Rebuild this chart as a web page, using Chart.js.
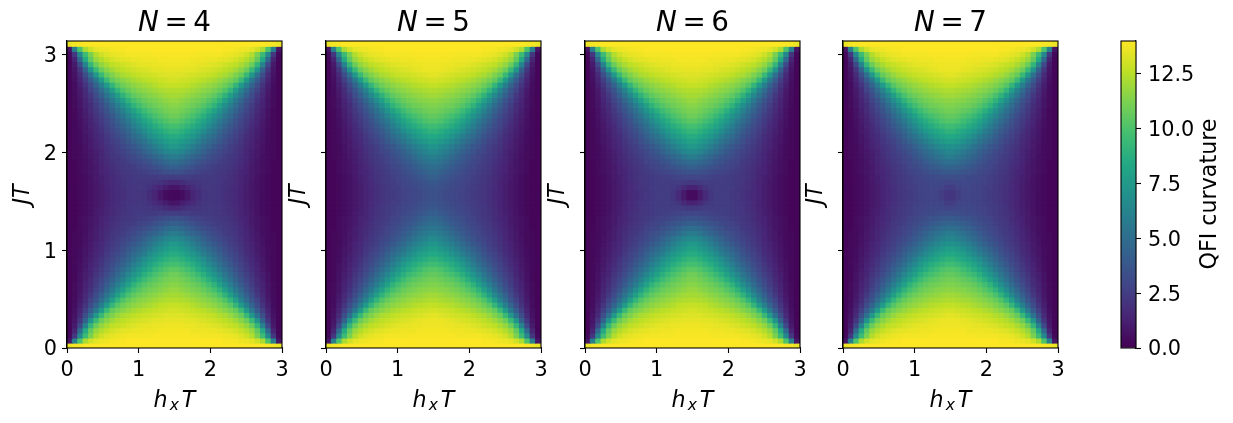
<!DOCTYPE html>
<html>
<head>
<meta charset="utf-8">
<title>QFI curvature</title>
<script src="https://cdn.jsdelivr.net/npm/chart.js@4"></script>
<style>
    body { margin: 0; background: #fff; }
    #page { position: relative; width: 1233px; height: 423px; overflow: hidden; }
    canvas { position: absolute; top: 0; }
</style>
</head>
<body>
<div id="page"></div>
<script>
// QFI curvature x10, lower-left quarter of each map (rows from JT=0 up, columns from hxT=0 right).
// The maps are mirror symmetric, so the other three quarters are flips of this one.
const qfiN4 = [
[136,138,139,140,140,140,140,140,140,140,140,140,140,140,140,140,140,140,140,140],
[8,60,100,122,130,134,136,137,138,139,139,140,140,140,140,140,140,140,140,140],
[3,22,65,95,112,124,130,133,135,136,137,138,138,138,138,138,139,139,139,139],
[2,14,47,85,106,118,124,128,131,133,134,135,136,136,137,137,137,138,138,138],
[2,10,30,62,92,108,117,122,126,128,130,132,133,134,135,135,136,136,137,137],
[2,8,22,44,72,94,108,115,120,124,126,128,130,131,132,133,134,134,135,135],
[2,7,17,33,52,74,94,107,113,118,122,124,126,128,129,130,131,132,133,133],
[2,6,14,26,40,56,76,94,106,111,115,118,121,123,125,126,128,129,130,131],
[2,5,12,21,32,45,60,76,92,103,109,113,116,118,120,122,124,126,127,128],
[2,5,10,18,27,37,49,62,77,91,101,107,111,114,116,118,120,122,123,124],
[2,4,9,16,23,32,42,53,65,78,90,99,105,109,112,114,116,118,120,121],
[2,4,8,14,20,28,36,46,56,67,79,90,98,103,107,110,112,114,116,118],
[2,4,8,13,18,25,32,40,49,59,69,80,90,97,102,106,109,111,113,115],
[2,3,7,12,17,23,29,36,44,52,61,71,80,88,95,100,104,107,110,112],
[2,3,7,11,15,21,26,32,39,47,55,63,72,80,88,94,99,103,106,109],
[2,3,6,10,14,19,24,29,35,42,49,57,65,73,81,87,93,97,101,104],
[2,3,6,9,13,17,22,27,32,38,44,51,59,66,74,81,87,91,95,98],
[2,3,5,9,12,16,20,25,29,34,40,46,53,60,67,74,80,85,89,92],
[2,3,5,8,11,15,18,23,27,31,36,42,48,54,60,67,73,78,83,86],
[2,3,5,8,10,14,17,21,25,28,33,38,43,48,54,60,66,71,76,80],
[2,3,4,7,10,13,16,20,23,26,30,34,38,43,48,54,60,65,70,74],
[2,3,4,7,9,12,15,19,22,25,27,31,34,38,43,48,53,58,63,66],
[2,3,4,6,9,11,15,18,21,23,25,28,31,34,38,42,46,50,55,58],
[2,2,4,6,8,11,14,17,20,22,24,26,28,30,33,36,40,43,47,50],
[2,2,4,6,8,10,13,16,19,21,23,24,25,27,29,31,34,37,40,42],
[2,2,4,6,8,10,13,15,18,20,22,23,24,25,26,27,29,31,33,34],
[2,2,3,5,7,10,12,15,17,19,21,22,23,24,24,24,24,25,25,25],
[2,2,3,5,7,9,12,14,17,19,20,22,23,23,23,22,21,20,18,16],
[2,2,3,5,7,9,11,14,16,18,20,21,22,23,22,20,17,14,11,8],
[2,2,3,5,7,9,11,13,16,18,19,21,22,22,21,18,14,9,5,3]
];
const qfiN5 = [
[136,138,139,140,140,140,140,140,140,140,140,140,140,140,140,140,140,140,140,140],
[8,60,100,122,130,134,136,137,138,139,139,140,140,140,140,140,140,140,140,140],
[3,22,65,95,112,124,130,133,135,136,137,138,138,138,138,138,139,139,139,139],
[2,14,47,85,106,118,124,128,131,133,134,135,136,136,137,137,137,138,138,138],
[2,10,30,62,92,108,117,122,126,128,130,132,133,134,135,135,136,136,137,137],
[2,8,22,44,72,94,108,115,120,124,126,128,130,131,132,133,134,135,136,136],
[2,7,17,33,52,74,94,107,113,118,122,124,126,128,129,130,131,132,133,134],
[2,6,14,26,40,56,76,94,106,111,115,118,121,123,125,126,128,129,130,131],
[2,5,12,21,32,45,60,76,92,103,109,113,116,118,120,122,124,125,126,127],
[2,5,10,18,27,37,49,62,77,91,101,107,111,114,116,118,120,121,122,123],
[2,4,9,16,23,32,42,53,65,78,90,99,105,109,112,114,116,117,119,120],
[2,4,8,14,20,28,36,46,56,67,79,90,98,103,107,110,112,114,115,116],
[2,4,8,13,18,25,32,40,49,59,69,80,90,97,102,106,109,110,112,113],
[2,3,7,12,17,23,29,36,44,52,61,71,80,88,95,100,104,106,108,110],
[2,3,7,11,15,21,26,32,39,47,55,63,72,80,88,94,98,101,104,106],
[2,3,6,10,14,19,24,29,35,42,49,57,65,73,81,87,92,96,100,102],
[2,3,6,9,13,17,22,27,32,38,44,51,59,66,74,81,86,90,93,96],
[2,3,5,9,12,16,20,25,29,34,40,46,53,60,67,73,79,83,87,90],
[2,3,5,8,11,15,18,23,27,31,36,42,48,54,60,66,72,77,81,84],
[2,3,5,8,10,14,17,21,25,28,33,38,43,48,54,60,65,70,74,78],
[2,3,4,7,10,13,16,20,23,26,30,34,38,43,48,54,59,64,68,72],
[2,3,4,7,9,12,15,19,22,25,28,31,35,39,43,48,53,58,62,66],
[2,3,4,6,9,11,15,18,21,24,26,29,32,36,40,44,48,53,57,60],
[2,2,4,6,8,11,14,17,20,23,25,28,30,33,37,40,44,48,52,55],
[2,2,4,6,8,10,13,16,19,22,24,26,29,31,34,37,40,44,47,50],
[2,2,4,6,8,10,13,15,18,21,23,25,27,29,32,34,37,40,43,46],
[2,2,3,5,7,10,12,15,18,20,22,24,26,28,30,32,34,37,39,42],
[2,2,3,5,7,9,12,14,17,20,22,24,25,27,29,30,32,34,36,38],
[2,2,3,5,7,9,11,14,17,19,21,23,25,26,28,29,31,32,34,36],
[2,2,3,5,7,9,11,14,16,19,21,23,24,26,27,29,30,31,33,34]
];
const qfiN6 = [
[136,138,139,140,140,140,140,140,140,140,140,140,140,140,140,140,140,140,140,140],
[8,60,100,122,130,134,136,137,138,139,139,140,140,140,140,140,140,140,140,140],
[3,22,65,95,112,124,130,133,135,136,137,138,138,138,138,138,139,139,139,139],
[2,14,47,85,106,118,124,128,131,133,134,135,136,136,137,137,137,138,138,138],
[2,10,30,62,92,108,117,122,126,128,130,132,133,134,135,135,136,136,137,137],
[2,8,22,44,72,94,108,115,120,124,126,128,130,131,132,133,134,134,135,135],
[2,7,17,33,52,74,94,107,113,118,122,124,126,128,129,130,131,132,133,133],
[2,6,14,26,40,56,76,94,106,111,115,118,121,123,125,126,128,129,130,131],
[2,5,12,21,32,45,60,76,92,103,109,113,116,118,120,122,124,126,127,128],
[2,5,10,18,27,37,49,62,77,91,101,107,111,114,116,118,120,122,123,124],
[2,4,9,16,23,32,42,53,65,78,90,99,105,109,112,114,116,118,120,121],
[2,4,8,14,20,28,36,46,56,67,79,90,98,103,107,110,112,114,116,118],
[2,4,8,13,18,25,32,40,49,59,69,80,90,97,102,106,109,111,113,115],
[2,3,7,12,17,23,29,36,44,52,61,71,80,88,95,100,104,107,110,112],
[2,3,7,11,15,21,26,32,39,47,55,63,72,80,88,94,99,103,106,109],
[2,3,6,10,14,19,24,29,35,42,49,57,65,73,81,87,93,97,101,104],
[2,3,6,9,13,17,22,27,32,38,44,51,59,66,74,81,87,91,95,98],
[2,3,5,9,12,16,20,25,29,34,40,46,53,60,67,74,80,85,89,92],
[2,3,5,8,11,15,18,23,27,31,36,42,48,54,60,67,73,78,83,86],
[2,3,5,8,10,14,17,21,25,28,33,38,43,48,54,60,66,71,76,80],
[2,3,4,7,10,13,16,20,23,26,30,34,38,43,48,54,60,65,70,74],
[2,3,4,7,9,12,15,19,22,25,27,31,34,38,43,48,53,58,63,66],
[2,3,4,6,9,11,15,18,21,23,26,29,32,35,38,42,46,50,55,58],
[2,2,4,6,8,11,14,17,20,22,24,27,29,31,34,37,41,44,47,50],
[2,2,4,6,8,10,13,16,19,21,23,25,27,29,31,33,36,38,40,42],
[2,2,4,6,8,10,13,15,18,20,22,24,25,27,28,29,31,32,34,35],
[2,2,3,5,7,10,12,15,18,20,22,23,24,25,26,26,27,28,29,29],
[2,2,3,5,7,9,12,14,17,19,21,23,24,25,25,25,25,25,24,23],
[2,2,3,5,7,9,11,14,17,19,21,22,24,25,25,25,24,21,17,13],
[2,2,3,5,7,9,11,14,16,18,20,22,23,25,25,25,22,17,10,4]
];
const qfiN7 = [
[136,138,139,140,140,140,140,140,140,140,140,140,140,140,140,140,140,140,140,140],
[8,60,100,122,130,134,136,137,138,139,139,140,140,140,140,140,140,140,140,140],
[3,22,65,95,112,124,130,133,135,136,137,138,138,138,138,138,139,139,139,139],
[2,14,47,85,106,118,124,128,131,133,134,135,136,136,137,137,137,138,138,138],
[2,10,30,62,92,108,117,122,126,128,130,132,133,134,135,135,136,136,137,137],
[2,8,22,44,72,94,108,115,120,124,126,128,130,131,132,133,134,135,136,136],
[2,7,17,33,52,74,94,107,113,118,122,124,126,128,129,130,131,132,133,134],
[2,6,14,26,40,56,76,94,106,111,115,118,121,123,125,126,128,129,130,131],
[2,5,12,21,32,45,60,76,92,103,109,113,116,118,120,122,124,125,126,127],
[2,5,10,18,27,37,49,62,77,91,101,107,111,114,116,118,120,121,122,123],
[2,4,9,16,23,32,42,53,65,78,90,99,105,109,112,114,116,117,119,120],
[2,4,8,14,20,28,36,46,56,67,79,90,98,103,107,110,112,114,115,116],
[2,4,8,13,18,25,32,40,49,59,69,80,90,97,102,106,109,110,112,113],
[2,3,7,12,17,23,29,36,44,52,61,71,80,88,95,100,104,106,108,110],
[2,3,7,11,15,21,26,32,39,47,55,63,72,80,88,94,98,101,104,106],
[2,3,6,10,14,19,24,29,35,42,49,57,65,73,81,87,92,96,100,102],
[2,3,6,9,13,17,22,27,32,38,44,51,59,66,74,81,86,90,93,96],
[2,3,5,9,12,16,20,25,29,34,40,46,53,60,67,73,79,83,87,90],
[2,3,5,8,11,15,18,23,27,31,36,42,48,54,60,66,72,77,81,84],
[2,3,5,8,10,14,17,21,25,28,33,38,43,48,54,60,65,70,74,77],
[2,3,4,7,10,13,16,20,23,26,30,34,38,43,48,54,59,63,67,70],
[2,3,4,7,9,12,15,19,22,25,28,31,35,39,43,48,52,57,61,64],
[2,3,4,6,9,11,15,18,21,24,26,29,32,36,40,44,48,52,55,58],
[2,2,4,6,8,11,14,17,20,23,25,28,30,33,36,40,43,46,49,51],
[2,2,4,6,8,10,13,16,19,22,24,26,29,31,33,36,39,41,43,45],
[2,2,4,6,8,10,13,15,18,21,23,25,27,29,31,33,35,36,38,39],
[2,2,3,5,7,10,12,15,18,20,22,24,26,27,29,30,31,32,33,33],
[2,2,3,5,7,9,12,14,17,20,22,24,25,27,28,29,30,30,30,29],
[2,2,3,5,7,9,11,14,17,19,21,23,25,26,27,28,29,29,28,25],
[2,2,3,5,7,9,11,14,16,19,21,23,24,26,27,28,29,28,25,22]
];

const panelSizes = [4, 5, 6, 7];
const panelMaps = [qfiN4, qfiN5, qfiN6, qfiN7];
const panelLefts = [67, 326, 585, 843];
const xTickMax = 3;
const yMax = Math.PI;
const colorbarRange = [0, 14];
const colorbarLabel = 'QFI curvature';

const viridis = ['#440154', '#482475', '#414487', '#355f8d', '#2a788e', '#21918c', '#22a884', '#44bf70', '#7ad151', '#bddf26', '#fde725'];
const tickFont = { family: 'DejaVu Sans', size: 20.8 };
const labelFont = { family: 'DejaVu Sans', size: 22.2, style: 'italic' };

function hexToRgb(hex) {
    return [1, 3, 5].map(i => parseInt(hex.slice(i, i + 2), 16));
}

function viridisColor(value) {
    const t = Math.min(Math.max(value / colorbarRange[1], 0), 1) * (viridis.length - 1);
    const i = Math.min(Math.floor(t), viridis.length - 2);
    const a = hexToRgb(viridis[i]);
    const b = hexToRgb(viridis[i + 1]);
    const c = a.map((v, k) => Math.round(v + (b[k] - v) * (t - i)));
    return `rgb(${c[0]},${c[1]},${c[2]})`;
}

// unfold the quarter into the whole 60 x 40 grid of cells
function buildCells(quarter) {
    const rows = quarter.length * 2;
    const cols = quarter[0].length * 2;
    const points = [];
    const colors = [];
    for (let r = 0; r < rows; r++) {
        for (let c = 0; c < cols; c++) {
            const value = quarter[Math.min(r, rows - 1 - r)][Math.min(c, cols - 1 - c)] / 10;
            points.push({ x: (c + 0.5) * xTickMax / cols, y: (r + 0.5) * yMax / rows });
            colors.push(viridisColor(value));
        }
    }
    return { points, colors };
}

const framePlugin = {
    id: 'frame',
    afterDraw(chart) {
        const { ctx, chartArea: a } = chart;
        ctx.save();
        ctx.strokeStyle = '#000';
        ctx.lineWidth = 1.1;
        ctx.strokeRect(a.left, a.top, a.right - a.left, a.bottom - a.top);
        ctx.restore();
    }
};

// title and x label need mixed italic / upright text and a subscript
const panelTextPlugin = {
    id: 'panelText',
    afterDraw(chart, args, opts) {
        const { ctx, chartArea: a } = chart;
        const rest = `\u2009=\u2009${opts.size}`;
        ctx.save();
        ctx.fillStyle = '#000';
        ctx.textBaseline = 'alphabetic';
        ctx.font = 'italic 27.8px "DejaVu Sans"';
        const nWidth = ctx.measureText('N').width;
        ctx.font = '27.8px "DejaVu Sans"';
        const restWidth = ctx.measureText(rest).width;
        const start = (a.left + a.right - nWidth - restWidth) / 2;
        ctx.fillText(rest, start + nWidth, 31);
        ctx.font = 'italic 27.8px "DejaVu Sans"';
        ctx.fillText('N', start, 31);

        const big = 'italic 22.2px "DejaVu Sans"';
        const small = 'italic 15.5px "DejaVu Sans"';
        ctx.font = big;
        const hWidth = ctx.measureText('h').width;
        const tWidth = ctx.measureText('T').width;
        ctx.font = small;
        const xWidth = ctx.measureText('x').width;
        let x = (a.left + a.right - hWidth - xWidth - tWidth - 5) / 2;
        ctx.font = big;
        ctx.fillText('h', x, 407);
        x += hWidth + 2;
        ctx.font = small;
        ctx.fillText('x', x, 410);
        x += xWidth + 3;
        ctx.font = big;
        ctx.fillText('T', x, 407);
        ctx.restore();
    }
};

const colorbarTitlePlugin = {
    id: 'colorbarTitle',
    afterDraw(chart) {
        const { ctx } = chart;
        ctx.save();
        ctx.translate(149, 194);
        ctx.rotate(-Math.PI / 2);
        ctx.textAlign = 'center';
        ctx.textBaseline = 'middle';
        ctx.fillStyle = '#000';
        ctx.font = '22.2px "DejaVu Sans"';
        ctx.fillText(colorbarLabel, 0, 0);
        ctx.restore();
    }
};

function addCanvas(left, width) {
    const canvas = document.createElement('canvas');
    canvas.width = width;
    canvas.height = 423;
    canvas.style.left = left + 'px';
    canvas.style.width = width + 'px';
    canvas.style.height = '423px';
    document.getElementById('page').appendChild(canvas);
    return canvas;
}

panelSizes.forEach((size, i) => {
    const cells = buildCells(panelMaps[i]);
    const canvas = addCanvas(panelLefts[i] - 67, 300);
    new Chart(canvas, {
        type: 'scatter',
        data: {
            datasets: [{
                label: `N = ${size}`,
                data: cells.points,
                pointStyle: 'rect',
                pointRadius: 4.6,
                pointBorderWidth: 0,
                pointBackgroundColor: cells.colors
            }]
        },
        options: {
            responsive: false,
            animation: false,
            layout: { padding: { top: 41, right: 18, left: 0, bottom: 0 } },
            plugins: {
                legend: { display: false },
                tooltip: { enabled: false },
                panelText: { size: size }
            },
            scales: {
                x: {
                    type: 'linear',
                    min: 0,
                    max: xTickMax,
                    afterFit(scale) { scale.height = 75; },
                    grid: { drawOnChartArea: false, color: '#000', tickLength: 5, tickWidth: 1.1 },
                    border: { color: '#000', width: 1.1 },
                    ticks: { stepSize: 1, color: '#000', font: tickFont, padding: 5, maxRotation: 0 }
                },
                y: {
                    type: 'linear',
                    min: 0,
                    max: yMax,
                    afterFit(scale) { scale.width = 67; },
                    grid: { drawOnChartArea: false, color: '#000', tickLength: 5, tickWidth: 1.1 },
                    border: { color: '#000', width: 1.1 },
                    ticks: {
                        stepSize: 1,
                        includeBounds: false,
                        color: '#000',
                        font: tickFont,
                        padding: 5,
                        labelOffset: 2,
                        callback: value => (i === 0 ? String(value) : '')
                    },
                    title: { display: true, text: 'JT', color: '#000', font: labelFont, padding: { top: i === 0 ? 10 : 27, bottom: 0 } }
                }
            }
        },
        plugins: [framePlugin, panelTextPlugin]
    });
});

// colour bar
const cbarCanvas = addCanvas(1061, 172);
new Chart(cbarCanvas, {
    type: 'bar',
    data: {
        labels: [colorbarLabel],
        datasets: [{
            label: colorbarLabel,
            data: [colorbarRange],
            barPercentage: 1,
            categoryPercentage: 1,
            backgroundColor(context) {
                const area = context.chart.chartArea;
                if (!area) return viridis[0];
                const gradient = context.chart.ctx.createLinearGradient(0, area.bottom, 0, area.top);
                viridis.forEach((color, k) => gradient.addColorStop(k / (viridis.length - 1), color));
                return gradient;
            }
        }]
    },
    options: {
        responsive: false,
        animation: false,
        layout: { padding: { top: 41, bottom: 75, left: 60, right: 0 } },
        plugins: { legend: { display: false }, tooltip: { enabled: false } },
        scales: {
            x: { display: false },
            y: {
                position: 'right',
                min: colorbarRange[0],
                max: colorbarRange[1],
                afterFit(scale) { scale.width = 97; },
                grid: { drawOnChartArea: false, color: '#000', tickLength: 5, tickWidth: 1.1 },
                border: { color: '#000', width: 1.1 },
                ticks: {
                    stepSize: 2.5,
                    includeBounds: false,
                    color: '#000',
                    font: tickFont,
                    padding: 7,
                    labelOffset: 2,
                    callback: value => value.toFixed(1)
                }
            }
        }
    },
    plugins: [framePlugin, colorbarTitlePlugin]
});
</script>
</body>
</html>
